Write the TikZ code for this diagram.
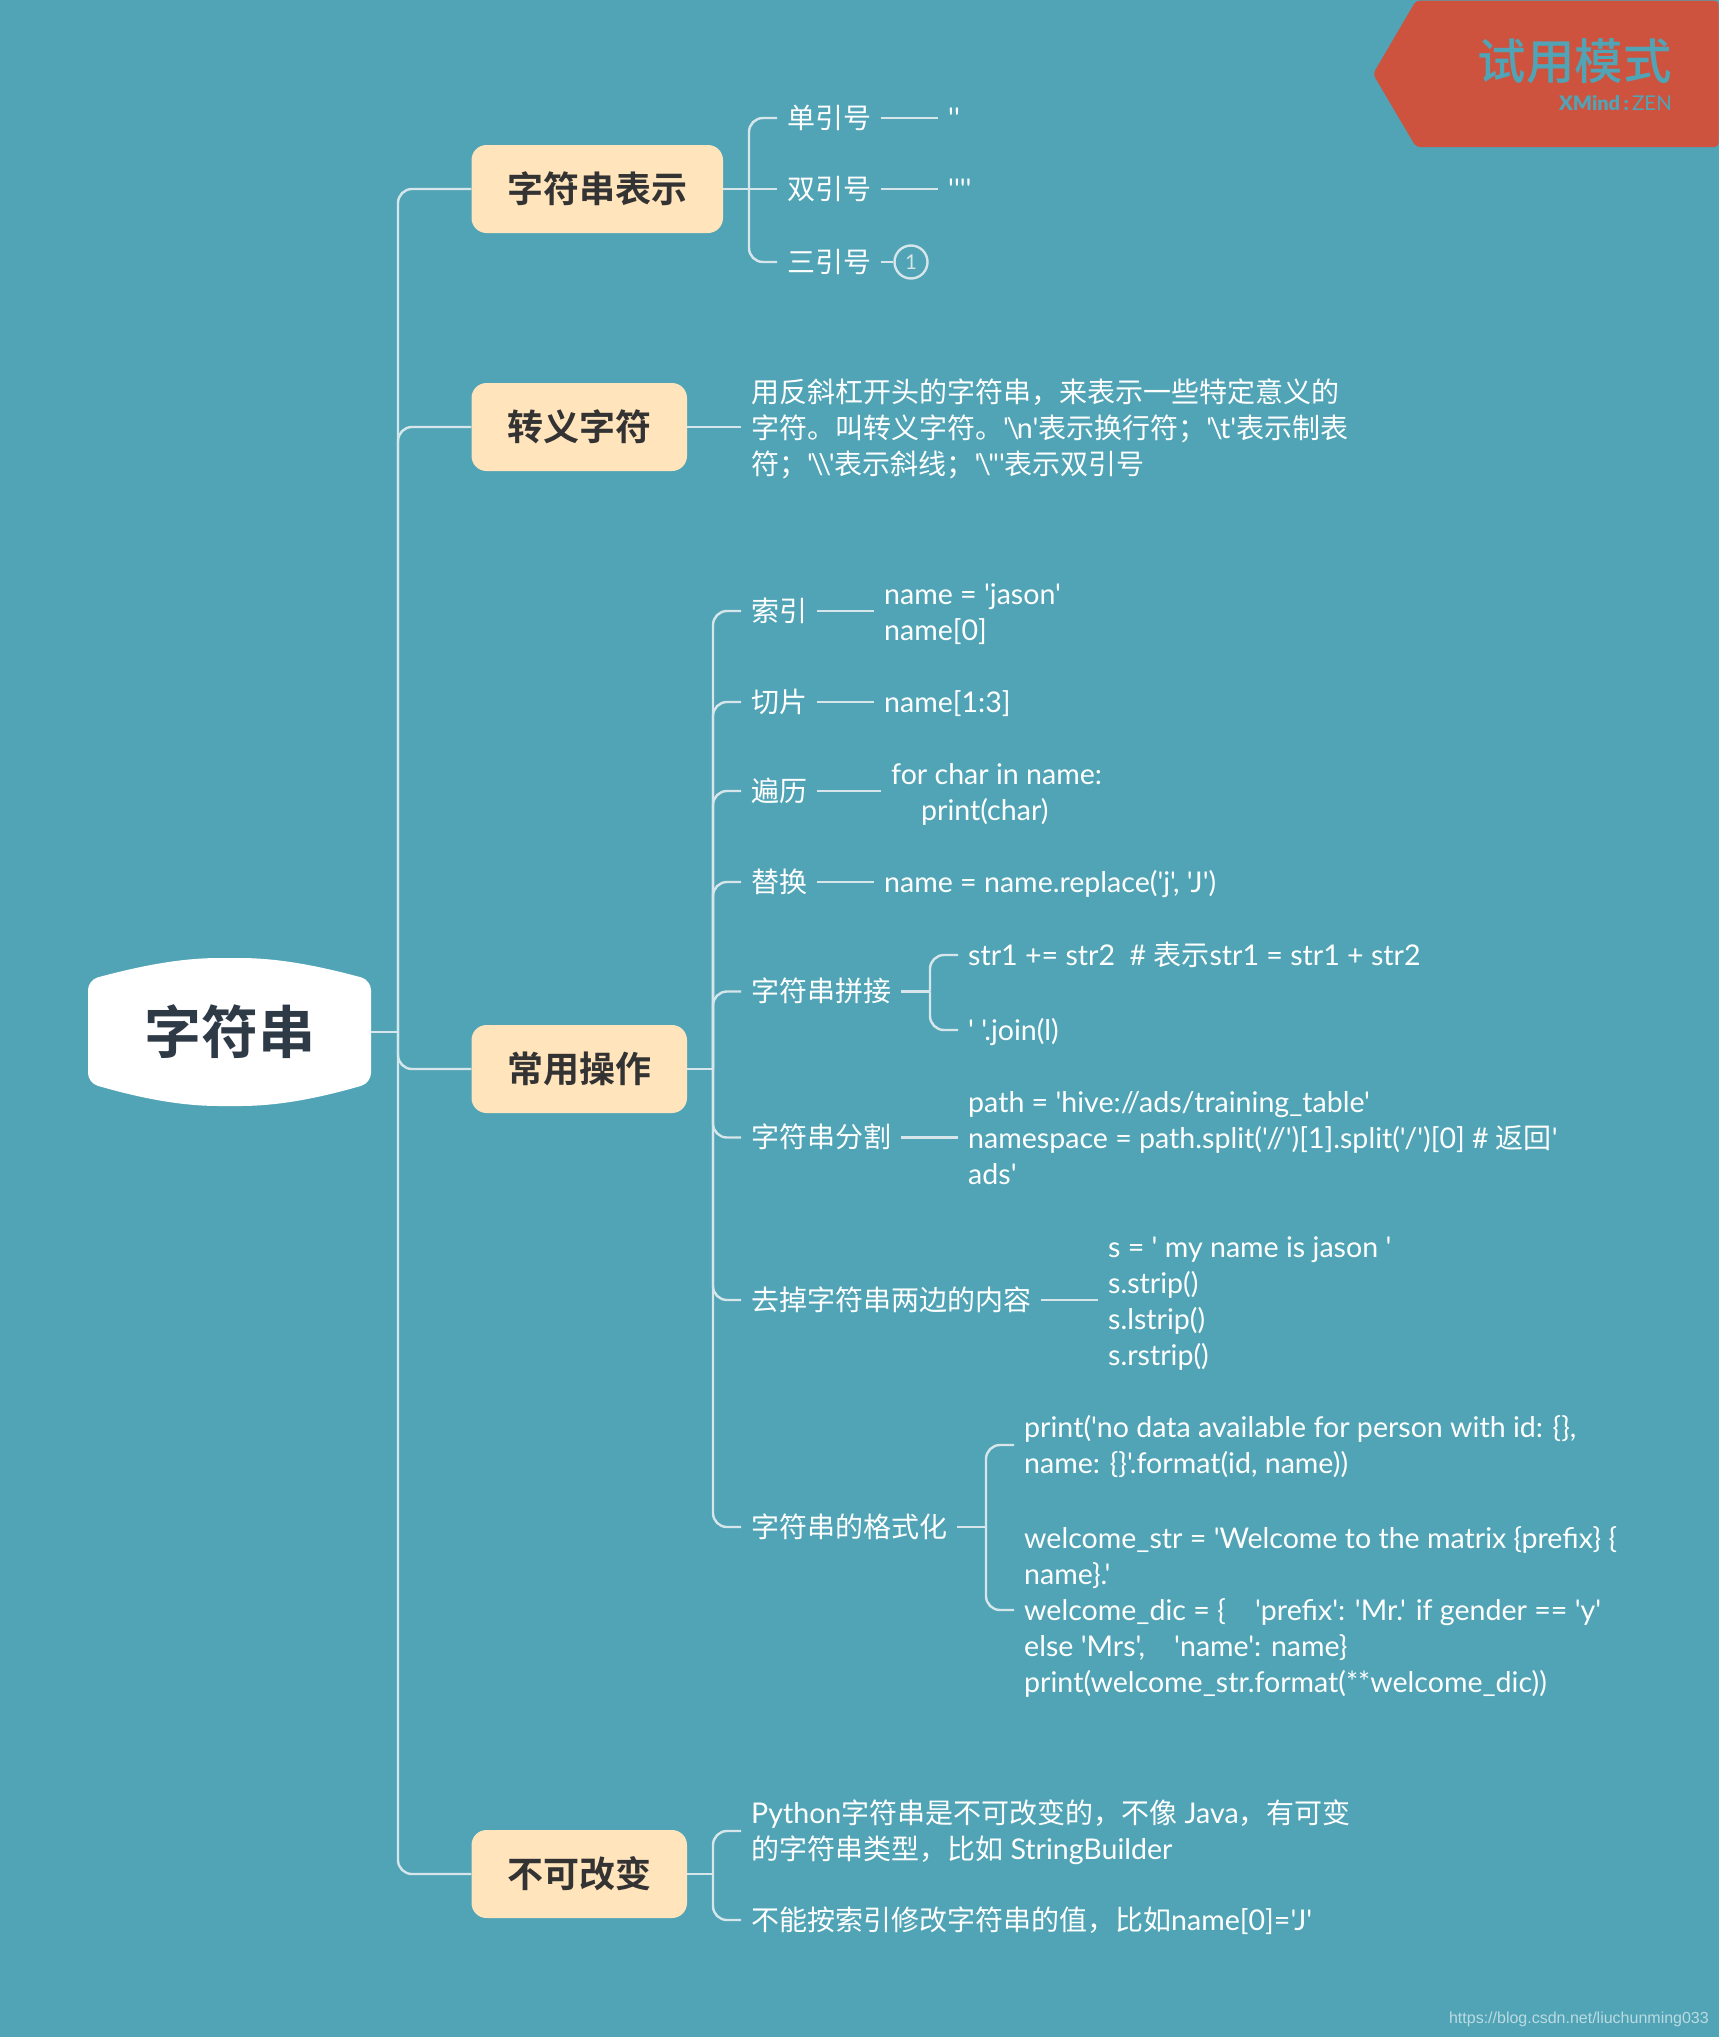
\documentclass[tikz,border=0pt]{standalone}
\usepackage{fontspec}
\setmainfont{Lato}
\newfontfamily\latin[Scale=1.02]{Lato}
\newfontfamily\latinh{Lato Black}
\newfontfamily\cjk{Noto Sans CJK SC}
\newfontfamily\cjkb{Noto Sans CJK SC Bold}
\newfontfamily\cjkm{Noto Sans CJK SC Medium}
\newfontfamily\webfont{Liberation Sans}
\newcommand{\zh}[1]{{\cjk #1}}
\newcommand{\st}{\rule[-7pt]{0pt}{34pt}}
\newcommand{\bs}{\kern-2.5pt\textbackslash\kern-2.5pt}
\definecolor{bgteal}{HTML}{50A4B6}
\definecolor{linecol}{HTML}{D6E6EA}
\definecolor{topicfill}{HTML}{FFE4BC}
\definecolor{badgered}{HTML}{CE533F}
\definecolor{darkink}{HTML}{333333}
\definecolor{rootink}{HTML}{2F3A47}
\definecolor{webink}{HTML}{BBDBE2}
\tikzset{
  conn/.style={draw=linecol,line width=2.4pt},
  elbow/.style={conn,rounded corners=14pt},
  topic/.style={fill=topicfill,rounded corners=15pt,inner sep=0pt,minimum height=88pt,
    text=darkink,font=\cjkb\fontsize{36}{36}\selectfont},
  leaf/.style={anchor=west,inner xsep=10pt,inner ysep=0pt,text=white,align=left,
    font=\latin\fontsize{28}{36}\selectfont},
  number/.style={circle,draw=linecol,line width=2.4pt,minimum size=33pt,inner sep=0pt,
    text=linecol,font=\latin\fontsize{20}{20}\selectfont}
}
\begin{document}
\begin{tikzpicture}[x=1pt,y=-1pt]
\useasboundingbox (0,0) rectangle (1719,2037);
\fill[bgteal] (0,0) rectangle (1719,2037);

% trial badge
\fill[badgered,rounded corners=4pt] (1416,0.5) -- (1373,74) -- (1416,147) -- (1718.5,147) -- (1718.5,0.5) -- cycle;
\node[anchor=east,inner sep=0pt,text=bgteal,font=\cjkm\fontsize{48.5}{48}\selectfont] (trial) at (1672,61) {试用模式};
\node[anchor=east,inner sep=0pt,text=bgteal,font=\latin\fontsize{20}{20}\selectfont] (brand) at (1672,103) {{\latinh XMind\,:\,}ZEN};

% central topic outline and label
\fill[white,rounded corners=10pt] (88,1032) -- (88,980)
  .. controls (140,966) and (180,958) .. (229.5,958)
  .. controls (279,958) and (319,966) .. (371,980)
  -- (371,1083)
  .. controls (319,1098) and (279,1106) .. (229.5,1106)
  .. controls (180,1106) and (140,1098) .. (88,1083) -- cycle;
\node[minimum width=283pt,minimum height=148pt,inner sep=0pt,text=rootink,font=\cjkb\fontsize{57}{57}\selectfont] (root) at (229.5,1032) {字符串};

% main topics
\node[topic,minimum width=251.5pt] (t1) at (597.25,189) {字符串表示};
\node[topic,minimum width=215.5pt] (t2) at (579.25,427) {转义字符};
\node[topic,minimum width=215.5pt] (t3) at (579.25,1069) {常用操作};
\node[topic,minimum width=215.5pt] (t4) at (579.25,1874) {不可改变};

% junctions
\coordinate (rj) at (398,1032);
\coordinate (j1) at (749,189);
\coordinate (j3) at (713,1069);
\coordinate (j4) at (713,1874);
\coordinate (jc) at (930,991.5);
\coordinate (jf) at (986,1527);

% first group
\node[leaf] (a1) at (777,118) {\st\zh{单引号}};
\node[leaf] (a2) at (777,189) {\st\zh{双引号}};
\node[leaf] (a3) at (777,262) {\st\zh{三引号}};
\node[leaf] (a1v) at (938,118) {\st''};
\node[leaf] (a2v) at (938,189) {\st''''};
\node[number] (a3v) at (911,262) {1};

% second group
\node[leaf] (b1) at (741,428) {\st\zh{用反斜杠开头的字符串，来表示一些特定意义的}\\
  \st\zh{字符。叫转义字符。}'\bs n'\zh{表示换行符；}'\bs t'\zh{表示制表}\\
  \st\zh{符；}'\bs\bs'\zh{表示斜线；}'\bs"'\zh{表示双引号}};

% third group
\node[leaf] (c1) at (741,611) {\st\zh{索引}};
\node[leaf] (c2) at (741,702) {\st\zh{切片}};
\node[leaf] (c3) at (741,791) {\st\zh{遍历}};
\node[leaf] (c4) at (741,882) {\st\zh{替换}};
\node[leaf] (c5) at (741,991.5) {\st\zh{字符串拼接}};
\node[leaf] (c6) at (741,1137.5) {\st\zh{字符串分割}};
\node[leaf] (c7) at (741,1300) {\st\zh{去掉字符串两边的内容}};
\node[leaf] (c8) at (741,1527) {\st\zh{字符串的格式化}};

\node[leaf] (c1v) at (874,612) {\st name = 'jason'\\ \st name[0]};
\node[leaf] (c2v) at (874,702) {\st name[1:3]};
\node[leaf] (c3v) at (881,792) {\st for char in name:\\ \st\hspace*{30pt}print(char)};
\node[leaf] (c4v) at (874,882) {\st name = name.replace('j', 'J')};
\node[leaf] (c5a) at (958,955) {\st str1 += str2 \ \# \zh{表示}str1 = str1 + str2};
\node[leaf] (c5b) at (958,1030) {\st ' '.join(l)};
\node[leaf] (c6v) at (958,1138) {\st path = 'hive://ads/training\_table'\\
  \st namespace = path.split('//')[1].split('/')[0] \# \zh{返回}'\\
  \st ads'};
\node[leaf] (c7v) at (1098,1301) {\st s = ' my name is jason '\\ \st s.strip()\\ \st s.lstrip()\\ \st s.rstrip()};
\node[leaf] (c8a) at (1014,1445) {\st print('no data available for person with id: \{\},\\
  \st name: \{\}'.format(id, name))};
\node[leaf] (c8b) at (1014,1610) {\st welcome\_str = 'Welcome to the matrix \{prefix\} \{\\
  \st name\}.'\\
  \st welcome\_dic = \{ \ \ \ 'prefix': 'Mr.' if gender == 'y'\\
  \st else 'Mrs', \ \ \ 'name': name\}\\
  \st print(welcome\_str.format(**welcome\_dic))};

% fourth group
\node[leaf] (d1) at (741,1831) {\st Python\zh{字符串是不可改变的，不像} Java\zh{，有可变}\\
  \st\zh{的字符串类型，比如} StringBuilder};
\node[leaf] (d2) at (741,1920) {\st\zh{不能按索引修改字符串的值，比如}name[0]='J'};

% page source line
\node[anchor=east,inner sep=0pt,text=webink,font=\webfont\fontsize{16}{16}\selectfont] (web) at (1709,2019) {https://blog.csdn.net/liuchunming033};

% connectors
\draw[conn] (root.east) -- (rj);
\foreach \t in {t1,t2,t3,t4} \draw[elbow] (rj) |- (\t.west);
\draw[conn] (t1.east) -- (a2.west);
\draw[elbow] (j1) |- (a1.west);
\draw[elbow] (j1) |- (a3.west);
\draw[conn] (a1.east) -- (a1v.west);
\draw[conn] (a2.east) -- (a2v.west);
\draw[conn] (a3.east) -- (a3v.west);
\draw[conn] (t2.east) -- (t2.east -| b1.west);
\draw[conn] (t3.east) -- (j3);
\foreach \c in {c1,c2,c3,c4,c5,c6,c7,c8} \draw[elbow] (j3) |- (\c.west);
\draw[conn] (c1.east) -- (c1.east -| c1v.west);
\draw[conn] (c2.east) -- (c2v.west);
\draw[conn] (c3.east) -- (c3.east -| c3v.west);
\draw[conn] (c4.east) -- (c4v.west);
\draw[conn] (c5.east) -- (jc);
\draw[elbow] (jc) |- (c5a.west);
\draw[elbow] (jc) |- (c5b.west);
\draw[conn] (c6.east) -- (c6.east -| c6v.west);
\draw[conn] (c7.east) -- (c7.east -| c7v.west);
\draw[conn] (c8.east) -- (jf);
\draw[elbow] (jf) |- (c8a.west);
\draw[elbow] (jf) |- (c8b.west);
\draw[conn] (t4.east) -- (j4);
\draw[elbow] (j4) |- (d1.west);
\draw[elbow] (j4) |- (d2.west);
\end{tikzpicture}
\end{document}
